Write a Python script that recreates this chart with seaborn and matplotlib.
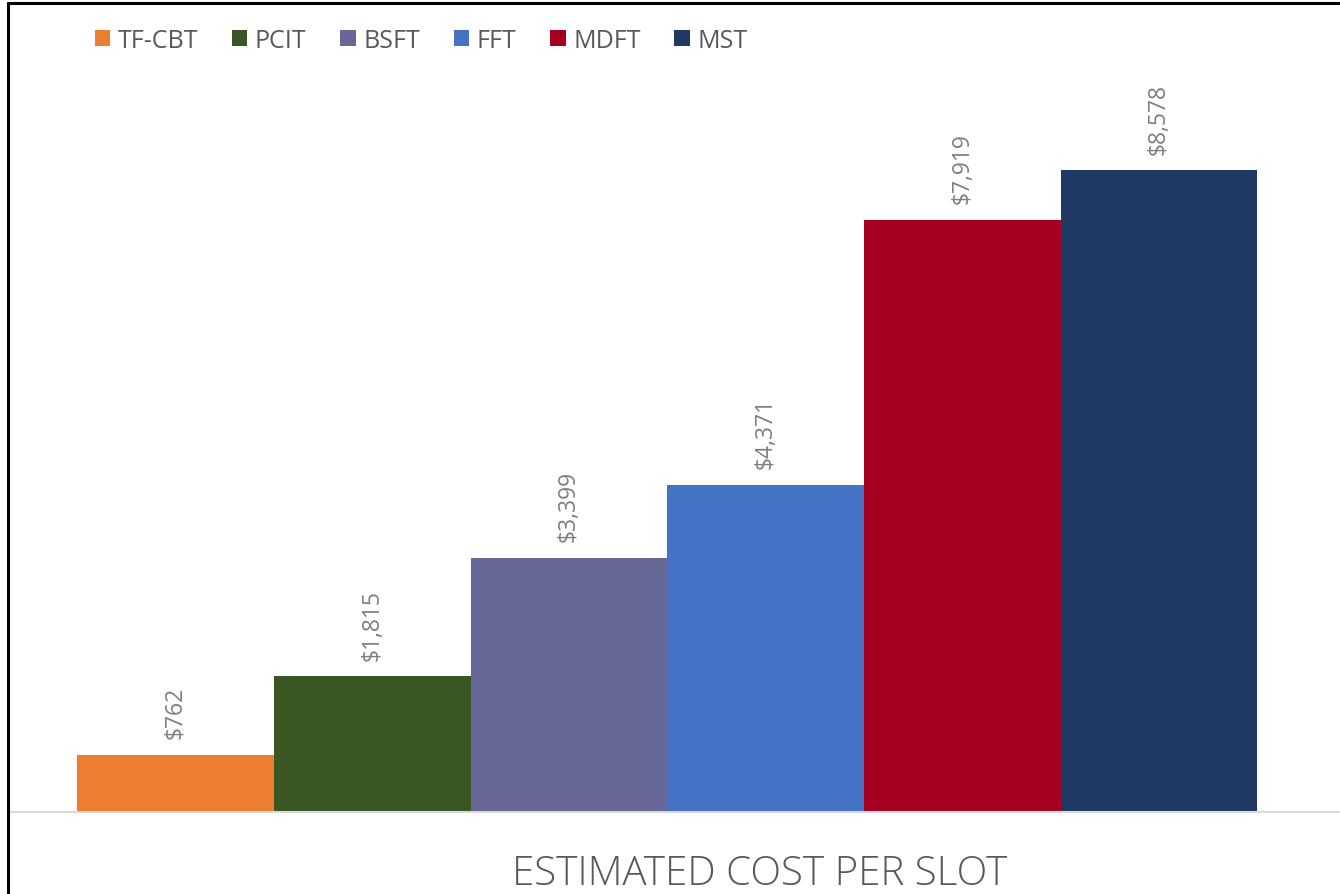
import matplotlib
matplotlib.use('Agg')
import matplotlib.pyplot as plt
import seaborn as sns
import pandas as pd
from matplotlib.lines import Line2D

# === Data ===
programs = ['TF-CBT', 'PCIT', 'BSFT', 'FFT', 'MDFT', 'MST']
costs = [762, 1815, 3399, 4371, 7919, 8578]
category = 'ESTIMATED COST PER SLOT'
colors = ['#ED7D31', '#3A5623', '#676798', '#4472C4', '#A50021', '#203864']

df = pd.DataFrame({'Category': [category] * len(programs),
                   'Program': programs,
                   'Cost': costs})

# === Style ===
sns.set_style('white')
plt.rcParams['font.family'] = ['Open Sans', 'DejaVu Sans']

fig = plt.figure(figsize=(13.4, 8.95), dpi=100)
ax = fig.add_axes([8 / 1340, (895 - 813) / 895, 1 - 8 / 1340, (813 - 65) / 895])

sns.barplot(data=df, x='Category', y='Cost', hue='Program', palette=colors,
            width=0.886, gap=0, saturation=1, linewidth=0, ax=ax)

ax.set_ylim(0, 10000)
ax.set_xlim(-0.495, 0.505)

# value labels
for cont in ax.containers:
    ax.bar_label(cont, labels=[f'${v:,.0f}' for v in cont.datavalues],
                 rotation=90, padding=12, color='#7F7F7F', fontsize=16.5)

# axes cosmetics
ax.set_ylabel('')
ax.set_yticks([])
ax.set_xticklabels([])
ax.tick_params(axis='x', length=0)
ax.set_xlabel(category, fontsize=29, color='#595959', fontweight='light')
ax.xaxis.set_label_coords((760 - 8) / 1332, -(875 - 813) / 748)
ax.xaxis.label.set_va('center')
for side in ['left', 'right', 'top']:
    ax.spines[side].set_visible(False)
ax.spines['bottom'].set_color('#D9D9D9')
ax.spines['bottom'].set_linewidth(1.5)

# legend at top
handles, labels = ax.get_legend_handles_labels()
ax.get_legend().remove()
fig.legend(handles, labels, loc='center left', bbox_to_anchor=(72 / 1340, 1 - 41 / 895),
           ncol=6, frameon=False, fontsize=18, labelcolor='#595959',
           handlelength=0.62, handleheight=0.62, handletextpad=0.3, columnspacing=1.35)

# outer frame (left and top edges)
fig.add_artist(Line2D([8 / 1340, 8 / 1340], [0, 1 - 4 / 895], color='black', lw=2.2,
                      transform=fig.transFigure))
fig.add_artist(Line2D([8 / 1340, 1], [1 - 4 / 895, 1 - 4 / 895], color='black', lw=2.2,
                      transform=fig.transFigure))

fig.savefig('out.png', dpi=100)
